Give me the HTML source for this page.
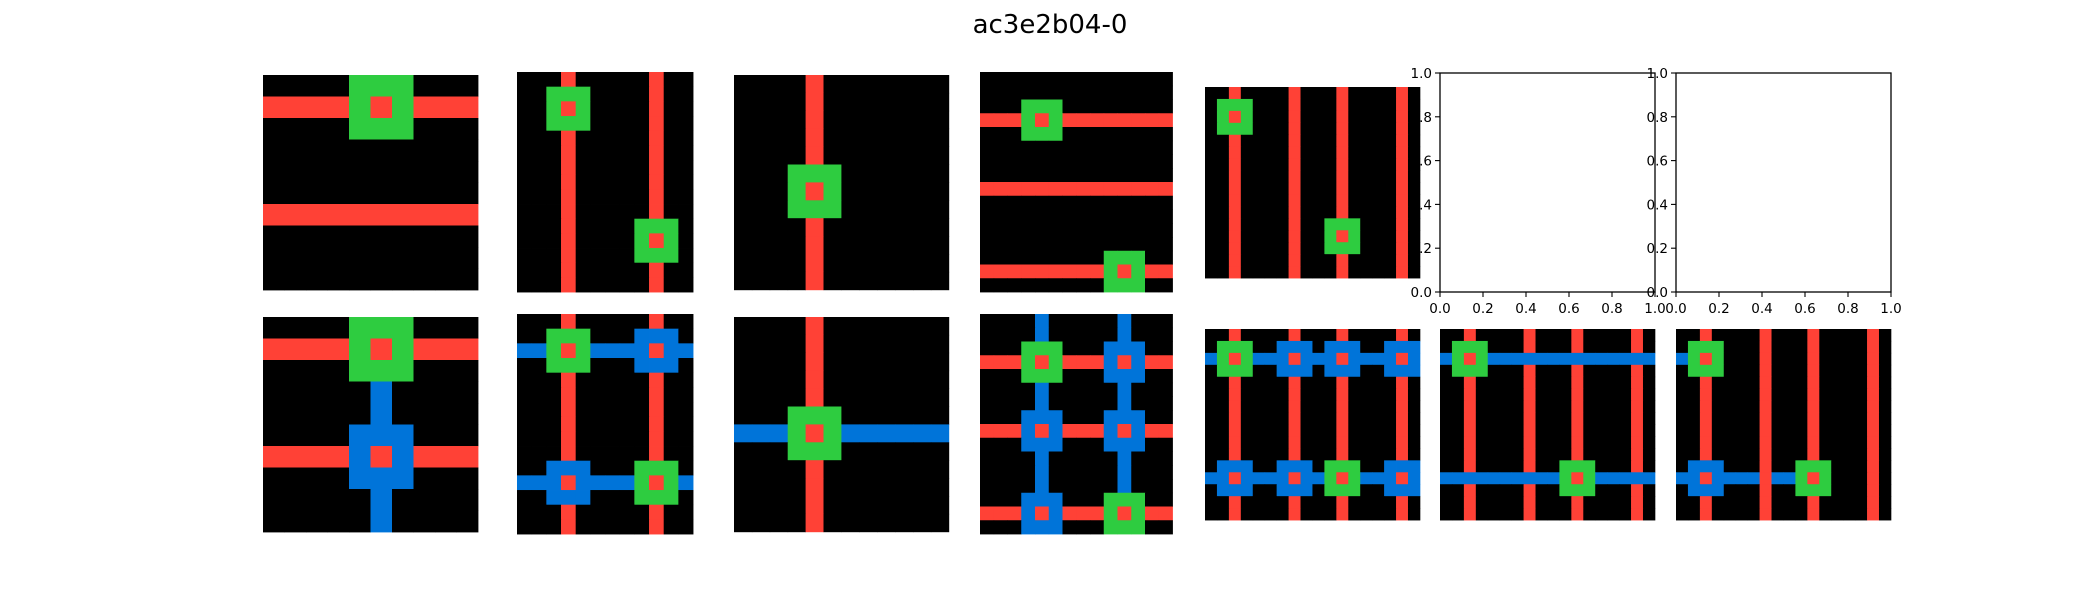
<!DOCTYPE html>
<html>
<head>
<meta charset="utf-8">
<style>
  html,body{margin:0;padding:0;background:#fff;}
  svg{display:block;}
  text{font-family:"DejaVu Sans","Liberation Sans",sans-serif;}
</style>
</head>
<body>
<svg id="fig" width="2100" height="600" viewBox="0 0 2100 600" xmlns="http://www.w3.org/2000/svg">
  <rect x="0" y="0" width="2100" height="600" fill="#fff"/>
  <text x="1050" y="33" text-anchor="middle" font-size="26" fill="#000">ac3e2b04-0</text>
  <g id="panels"></g>
</svg>
<script>
const palette = {"0":"#000000","1":"#0074D9","2":"#FF4136","3":"#2ECC40"};

const gridTop1 = ["0000333000","2222323222","0000333000","0000000000","0000000000","0000000000","2222222222","0000000000","0000000000","0000000000"];
const gridBot1 = ["0000333000","2222323222","0000333000","0000010000","0000010000","0000111000","2222121222","0000111000","0000010000","0000010000"];
const gridTop2 = ["000200000200","003330000200","003230000200","003330000200","000200000200","000200000200","000200000200","000200000200","000200000200","000200000200","000200003330","000200003230","000200003330","000200000200","000200000200"];
const gridBot2 = ["000200000200","003330001110","113231111211","003330001110","000200000200","000200000200","000200000200","000200000200","000200000200","000200000200","001110003330","111211113231","001110003330","000200000200","000200000200"];
const gridTop3 = ["000020000000","000020000000","000020000000","000020000000","000020000000","000333000000","000323000000","000333000000","000020000000","000020000000","000020000000","000020000000"];
const gridBot3 = ["000020000000","000020000000","000020000000","000020000000","000020000000","000333000000","111323111111","000333000000","000020000000","000020000000","000020000000","000020000000"];
const gridTop4 = ["00000000000000","00000000000000","00033300000000","22232322222222","00033300000000","00000000000000","00000000000000","00000000000000","22222222222222","00000000000000","00000000000000","00000000000000","00000000000000","00000000033300","22222222232322","00000000033300"];
const gridBot4 = ["00001000001000","00001000001000","00033300011100","22232322212122","00033300011100","00001000001000","00001000001000","00011100011100","22212122212122","00011100011100","00001000001000","00001000001000","00001000001000","00011100033300","22212122232322","00011100033300"];
const gridTop5 = ["002000020002000020","033300020002000020","032300020002000020","033300020002000020","002000020002000020","002000020002000020","002000020002000020","002000020002000020","002000020002000020","002000020002000020","002000020002000020","002000020033300020","002000020032300020","002000020033300020","002000020002000020","002000020002000020"];
const gridBot5 = ["002000020002000020","033300111011100111","132311121112111121","033300111011100111","002000020002000020","002000020002000020","002000020002000020","002000020002000020","002000020002000020","002000020002000020","002000020002000020","011100111033300111","112111121132311121","011100111033300111","002000020002000020","002000020002000020"];
const gridBot6 = ["002000020002000020","033300020002000020","132311111111111111","033300020002000020","002000020002000020","002000020002000020","002000020002000020","002000020002000020","002000020002000020","002000020002000020","002000020002000020","002000020033300020","111111111132311111","002000020033300020","002000020002000020","002000020002000020"];
const gridBot7 = ["002000020002000020","033300020002000020","132300020002000020","033300020002000020","002000020002000020","002000020002000020","002000020002000020","002000020002000020","002000020002000020","002000020002000020","002000020002000020","011100020033300020","112111121132300020","011100020033300020","002000020002000020","002000020002000020"];

const tickValues = [0.0, 0.2, 0.4, 0.6, 0.8, 1.0];
const tickLabels = ["0.0","0.2","0.4","0.6","0.8","1.0"];

const NS = "http://www.w3.org/2000/svg";
const root = document.getElementById('panels');

function mk(tag, attrs, parent){
  const e = document.createElementNS(NS, tag);
  for (const k in attrs) e.setAttribute(k, attrs[k]);
  parent.appendChild(e);
  return e;
}

function drawGrid(grid, x0, y0, cell, name){
  const g = mk('g', {}, root);
  
  
  const rows = grid.length, cols = grid[0].length;
  const xs = c => x0 + c * cell;
  const ys = r => y0 + r * cell;
  for (let r = 0; r < rows; r++){
    for (let c = 0; c < cols; c++){
      const v = grid[r][c];
      const rect = mk('rect', {x: xs(c), y: ys(r), width: cell + 0.4, height: cell + 0.4, fill: palette[v]}, g);
      
      
    }
  }
}

function drawEmptyAxes(x0, y0, w, h, name){
  const g = mk('g', {}, root);
  
  
  const sx = v => x0 + v * w;
  const sy = v => y0 + h - v * h;
  const frame = mk('rect', {x: x0, y: y0, width: w, height: h, fill: '#fff', stroke: '#000', 'stroke-width': 1.3}, g);
  
  
  for (let i = 0; i < tickValues.length; i++){
    const X = sx(tickValues[i]);
    const Y = sy(tickValues[i]);
    const xt = mk('line', {x1: X, y1: y0 + h, x2: X, y2: y0 + h + 5, stroke: '#000', 'stroke-width': 1.1}, g);
    
    
    const yt = mk('line', {x1: x0, y1: Y, x2: x0 - 5, y2: Y, stroke: '#000', 'stroke-width': 1.1}, g);
    
    
    const xl = mk('text', {x: X, y: y0 + h + 21, 'text-anchor': 'middle', 'font-size': 13.5, fill: '#000'}, g);
    xl.textContent = tickLabels[i];
    
    
    const yl = mk('text', {x: x0 - 8, y: Y + 5, 'text-anchor': 'end', 'font-size': 13.5, fill: '#000'}, g);
    yl.textContent = tickLabels[i];
    
    
  }
}

drawGrid(gridTop1, 263, 75, 21.5, 'input-grid-1');
drawGrid(gridTop2, 517, 72, 14.67, 'input-grid-2');
drawGrid(gridTop3, 734, 75, 17.9, 'input-grid-3');
drawGrid(gridTop4, 980, 72, 13.75, 'input-grid-4');
drawGrid(gridTop5, 1205, 87, 11.94, 'input-grid-5');
drawEmptyAxes(1440, 73, 215, 219, 'empty-axes-6');
drawEmptyAxes(1676, 73, 215, 219, 'empty-axes-7');

drawGrid(gridBot1, 263, 317, 21.5, 'output-grid-1');
drawGrid(gridBot2, 517, 314, 14.67, 'output-grid-2');
drawGrid(gridBot3, 734, 317, 17.9, 'output-grid-3');
drawGrid(gridBot4, 980, 314, 13.75, 'output-grid-4');
drawGrid(gridBot5, 1205, 329, 11.94, 'output-grid-5');
drawGrid(gridBot6, 1440, 329, 11.94, 'output-grid-6');
drawGrid(gridBot7, 1676, 329, 11.94, 'output-grid-7');
</script>
</body>
</html>
